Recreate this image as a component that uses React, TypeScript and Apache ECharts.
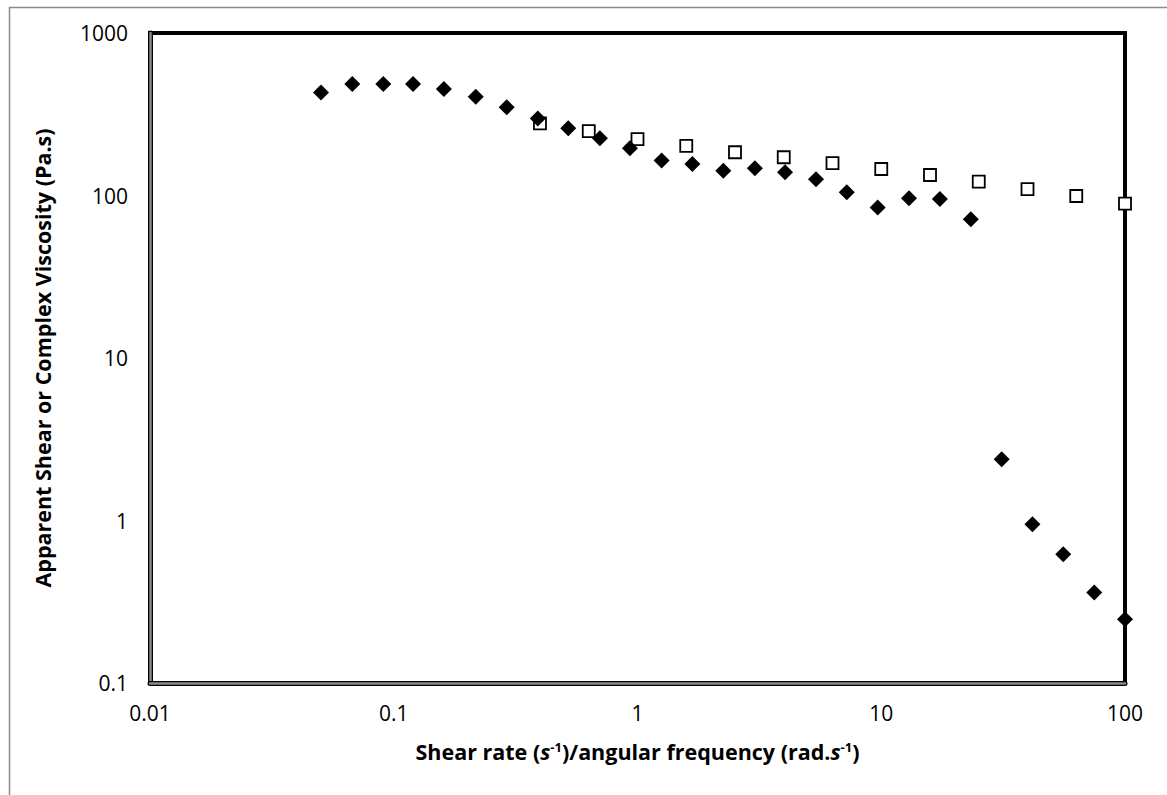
import React, { useEffect, useRef } from "react";
import * as echarts from "echarts";

// Apparent shear viscosity from steady shear (filled diamonds)
const shearRate = [
  0.0503, 0.0676, 0.0906, 0.12, 0.1606, 0.217, 0.2906, 0.39, 0.52, 0.701,
  0.931, 1.256, 1.679, 2.249, 3.03, 4.03, 5.4, 7.22, 9.67, 13.0, 17.4, 23.3,
  31.2, 41.7, 55.8, 74.8, 100,
];
const shearViscosity = [
  431, 486, 486, 486, 452, 405, 349, 298, 259, 225, 195, 164, 156, 142, 147,
  139, 126, 104.6, 84.5, 96.2, 95.2, 71.4, 2.38, 0.948, 0.619, 0.361, 0.247,
];

// Complex viscosity from oscillatory frequency sweep (open squares)
const angularFrequency = [
  0.398, 0.631, 1.0, 1.585, 2.512, 3.981, 6.31, 10.0, 15.85, 25.12, 39.81,
  63.1, 100,
];
const complexViscosity = [
  278, 249, 222, 202, 184.6, 172, 158, 145.6, 133.7, 121.6, 109.6, 99.3, 89,
];

const xTickLabels = ["0.01", "0.1", "1", "10", "100"];
const yTickLabels = ["0.1", "1", "10", "100", "1000"];

const FONT = "'Open Sans', 'Liberation Sans', sans-serif";
const TITLE_SIZE = 21.5;

const tickText = (labels: string[]) => (v: number) => {
  const exact = Number(v.toPrecision(6));
  const s = String(exact);
  return labels.includes(s) ? s : "";
};

export default function App() {
  const ref = useRef<HTMLDivElement>(null);

  useEffect(() => {
    if (!ref.current) return;
    const chart = echarts.init(ref.current, null, { renderer: "svg" });

    const baseX = {
      type: "log" as const,
      logBase: 10,
      min: 0.01,
      max: 100,
      position: "bottom" as const,
      splitLine: { show: false },
      axisTick: { show: false },
      minorTick: { show: false },
    };
    const baseY = {
      type: "log" as const,
      logBase: 10,
      min: 0.1,
      max: 1000,
      position: "left" as const,
      splitLine: { show: false },
      axisTick: { show: false },
      minorTick: { show: false },
    };

    chart.setOption({
      animation: false,
      backgroundColor: "#ffffff",
      textStyle: { fontFamily: FONT },
      graphic: [
        {
          type: "rect",
          left: 7,
          top: 5,
          shape: { x: 0, y: 0, width: 1300, height: 900 },
          style: { fill: "none", stroke: "#8c8c8c", lineWidth: 1.5 },
          silent: true,
          z: -10,
        },
      ],
      grid: {
        left: 150,
        top: 33,
        right: 42,
        bottom: 112,
        show: true,
        borderColor: "#000000",
        borderWidth: 4,
        backgroundColor: "transparent",
      },
      xAxis: [
        {
          ...baseX,
          axisLine: { show: true, lineStyle: { color: "#000000", width: 5 } },
          axisLabel: {
            show: true,
            color: "#000000",
            fontFamily: FONT,
            fontSize: 21,
            margin: 19,
            formatter: tickText(xTickLabels),
          },
          name:
            "{b|Shear rate (}{i|s}{sup|-1}{b|)/angular frequency (rad.}{i|s}{sup|-1}{b|)}",
          nameLocation: "middle",
          nameGap: 57,
          nameTextStyle: {
            color: "#000000",
            fontFamily: FONT,
            rich: {
              b: { fontFamily: FONT, fontWeight: "bold", fontSize: TITLE_SIZE, color: "#000" },
              i: {
                fontFamily: FONT,
                fontWeight: "bold",
                fontStyle: "italic",
                fontSize: TITLE_SIZE,
                color: "#000",
              },
              sup: {
                fontFamily: FONT,
                fontWeight: "bold",
                fontSize: 13,
                color: "#000",
                verticalAlign: "top",
              },
            },
          },
        },
        {
          ...baseX,
          axisLine: { show: true, lineStyle: { color: "#8a8a8a", width: 2.5 } },
          axisLabel: { show: false },
        },
      ],
      yAxis: [
        {
          ...baseY,
          axisLine: { show: true, lineStyle: { color: "#000000", width: 5 } },
          axisLabel: {
            show: true,
            color: "#000000",
            fontFamily: FONT,
            fontSize: 21,
            margin: 22,
            formatter: tickText(yTickLabels),
          },
          name: "Apparent Shear or Complex Viscosity (Pa.s)",
          nameLocation: "middle",
          nameGap: 97,
          nameRotate: 90,
          nameTextStyle: {
            color: "#000000",
            fontFamily: FONT,
            fontWeight: "bold",
            fontSize: TITLE_SIZE,
          },
        },
        {
          ...baseY,
          axisLine: { show: true, lineStyle: { color: "#8a8a8a", width: 2.5 } },
          axisLabel: { show: false },
        },
      ],
      series: [
        {
          name: "Complex viscosity",
          type: "scatter",
          xAxisIndex: 0,
          yAxisIndex: 0,
          symbol: "rect",
          symbolSize: 12,
          itemStyle: {
            color: "#ffffff",
            borderColor: "#000000",
            borderWidth: 1.8,
            opacity: 1,
          },
          data: angularFrequency.map((x, i) => [x, complexViscosity[i]]),
          z: 3,
        },
        {
          name: "Apparent shear viscosity",
          type: "scatter",
          xAxisIndex: 0,
          yAxisIndex: 0,
          symbol: "diamond",
          symbolSize: 16,
          itemStyle: { color: "#000000", opacity: 1 },
          data: shearRate.map((x, i) => [x, shearViscosity[i]]),
          z: 4,
        },
      ],
    });

    return () => chart.dispose();
  }, []);

  return (
    <div
      ref={ref}
      style={{ position: "absolute", left: 0, top: 0, width: 1167, height: 795 }}
    />
  );
}
